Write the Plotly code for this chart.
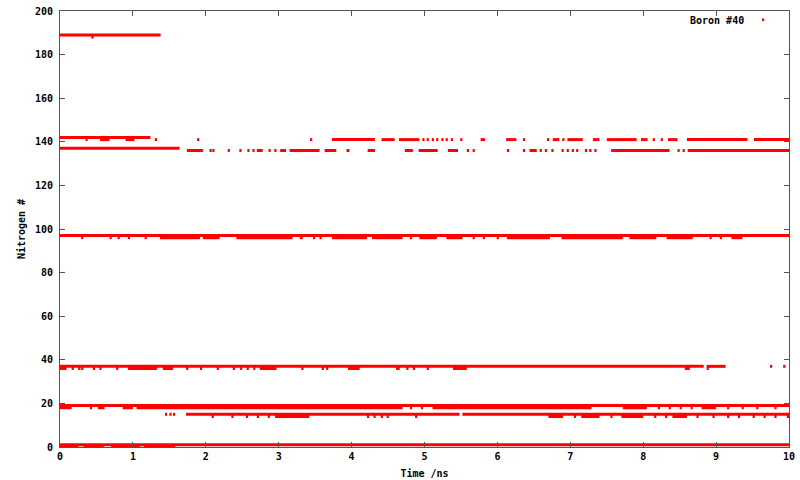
import plotly.graph_objects as go

# ---------------- data ----------------
X_TICKS = [0, 1, 2, 3, 4, 5, 6, 7, 8, 9, 10]
Y_TICKS = [0, 20, 40, 60, 80, 100, 120, 140, 160, 180, 200]
SERIES_NAME = "Boron #40"

# Each entry: (start ns, end ns) of a run of frames, or a single time (ns) for an isolated frame.
n189 = [(0.0, 1.38)]
n188 = [0.43]
n142 = [(0.0, 1.24)]
n141 = [0.35, (0.55, 0.68), (0.9, 1.02), 1.30, 1.88, 3.43, (3.73, 4.32), (4.41, 4.59), (4.65, 4.93),
        4.97, 5.03, 5.10, 5.16, 5.23, 5.29, 5.36, 5.49, (5.77, 5.83), (6.12, 6.26), 6.35, 6.68,
        (6.76, 6.85), 6.89, (6.96, 7.17), (7.31, 7.40), (7.50, 7.91), (7.97, 8.06), 8.13, 8.24,
        (8.34, 8.47), (8.60, 9.43), (9.52, 10.0)]
n137 = [(0.0, 1.64)]
n136 = [(1.74, 1.96), 2.05, 2.09, 2.30, 2.46, 2.57, 2.64, (2.70, 2.78), 2.86, 2.94, (3.02, 3.10),
        (3.15, 3.56), (3.63, 3.79), (3.93, 3.97), (4.22, 4.32), (4.73, 4.84), (4.92, 5.18),
        (5.32, 5.46), 5.58, 5.66, 6.13, 6.35, (6.44, 6.54), 6.58, 6.65, 6.74, 6.88, 6.95, 7.02,
        7.08, 7.20, 7.26, 7.33, (7.56, 8.36), 8.47, 8.54, (8.61, 10.0)]
n97 = [(0.0, 10.0)]
n96 = [0.29, 0.68, 0.79, 0.93, 1.16, (1.37, 1.92), (1.96, 2.19), (2.42, 3.19), (3.29, 3.33), 3.47,
       3.56, (3.73, 4.21), (4.28, 4.70), 4.80, (4.93, 5.17), (5.30, 5.52), 5.66, 5.80, 5.99,
       (6.13, 6.72), (6.88, 7.72), (7.81, 8.18), (8.32, 8.68), 8.91, 9.05, (9.21, 9.36)]
n37 = [(0.0, 8.83), (8.87, 9.13), 9.74, 9.92]
n36 = [(0.0, 0.09), 0.16, 0.25, 0.29, 0.45, 0.54, 0.77, (0.93, 1.33), (1.41, 1.55), 1.73, 1.92,
       2.15, 2.37, 2.47, 2.56, 2.65, (2.74, 2.97), 3.31, 3.59, 3.65, (3.95, 4.11), (4.61, 4.66),
       4.75, 4.84, 5.03, (5.39, 5.58), (8.57, 8.64), 8.87]
n19 = [(0.0, 10.0)]
n18 = [(0.0, 0.16), 0.41, (0.52, 0.61), (0.86, 1.0), (1.05, 4.70), 4.80, 4.95, (5.11, 7.29),
       (7.72, 8.05), 8.2, 8.35, 8.5, 8.65, (8.80, 9.0), 9.15, 9.35, 9.55, 9.8]
n15 = [1.44, 1.50, 1.55, (1.73, 5.48), (5.52, 10.0)]
n14 = [2.08, 2.35, 2.55, 2.70, 2.85, (2.95, 3.42), 4.21, 4.30, 4.40, 4.48, 4.87, (6.70, 6.90),
       7.05, (7.15, 7.40), 7.55, (7.70, 8.00), 8.15, 8.30, (8.40, 8.60), 8.73, 8.95, 9.15, 9.30,
       9.50, 9.65, 9.80, 9.97]
n1 = [(0.0, 10.0)]
n0 = [(0.0, 0.25), (0.32, 0.60), (0.70, 1.10), (1.15, 1.58)]

LEVELS = [(189, n189), (188, n188), (142, n142), (141, n141), (137, n137), (136, n136),
          (97, n97), (96, n96), (37, n37), (36, n36), (19, n19), (18, n18), (15, n15),
          (14, n14), (1, n1), (0, n0)]

# ---------------- figure ----------------
FRAME = 0.03  # drawn length of one isolated frame, in ns
RED = "#ff0000"
AXIS = "#555555"
FONT = dict(family="DejaVu Sans Mono", size=10, color="#000000", weight="bold")

fig = go.Figure()
for level, runs in LEVELS:
    xs, ys = [], []
    for r in runs:
        if isinstance(r, tuple):
            a, b = r
        else:
            a, b = r, r + FRAME
        xs += [a, b, None]
        ys += [level, level, None]
    fig.add_trace(go.Scatter(x=xs, y=ys, mode="lines", line=dict(color=RED, width=3),
                             showlegend=False, hoverinfo="skip", connectgaps=False,
                             cliponaxis=False))

axis_common = dict(showline=True, linecolor=AXIS, linewidth=1, mirror="ticks", ticks="inside",
                   ticklen=5, tickcolor=AXIS, tickwidth=1, showgrid=False, zeroline=False,
                   tickfont=FONT, title_font=FONT, automargin=False, ticklabeloverflow="allow")

fig.update_xaxes(range=[0, 10], tickvals=X_TICKS, ticktext=[str(v) for v in X_TICKS],
                 title_text="Time /ns", title_standoff=8, **axis_common)
fig.update_yaxes(range=[0, 200], tickvals=Y_TICKS, ticktext=[str(v) for v in Y_TICKS],
                 title_text="Nitrogen #", title_standoff=7, ticklabelstandoff=4, **axis_common)

fig.add_annotation(text=SERIES_NAME, xref="paper", yref="paper", x=0.941, y=0.979,
                   xanchor="right", yanchor="middle", showarrow=False, font=FONT)
fig.add_shape(type="rect", xref="paper", yref="paper", x0=0.963, x1=0.966, y0=0.977, y1=0.983,
              fillcolor=RED, line=dict(width=0))

fig.update_layout(width=800, height=480, margin=dict(l=60, r=11, t=11, b=33),
                  plot_bgcolor="white", paper_bgcolor="white", showlegend=False)

# remove the page's default body margin so the figure fills the 800x480 window exactly
fig.write_html("out.html", config={"displayModeBar": False},
               post_script="document.body.style.margin='0px';")
